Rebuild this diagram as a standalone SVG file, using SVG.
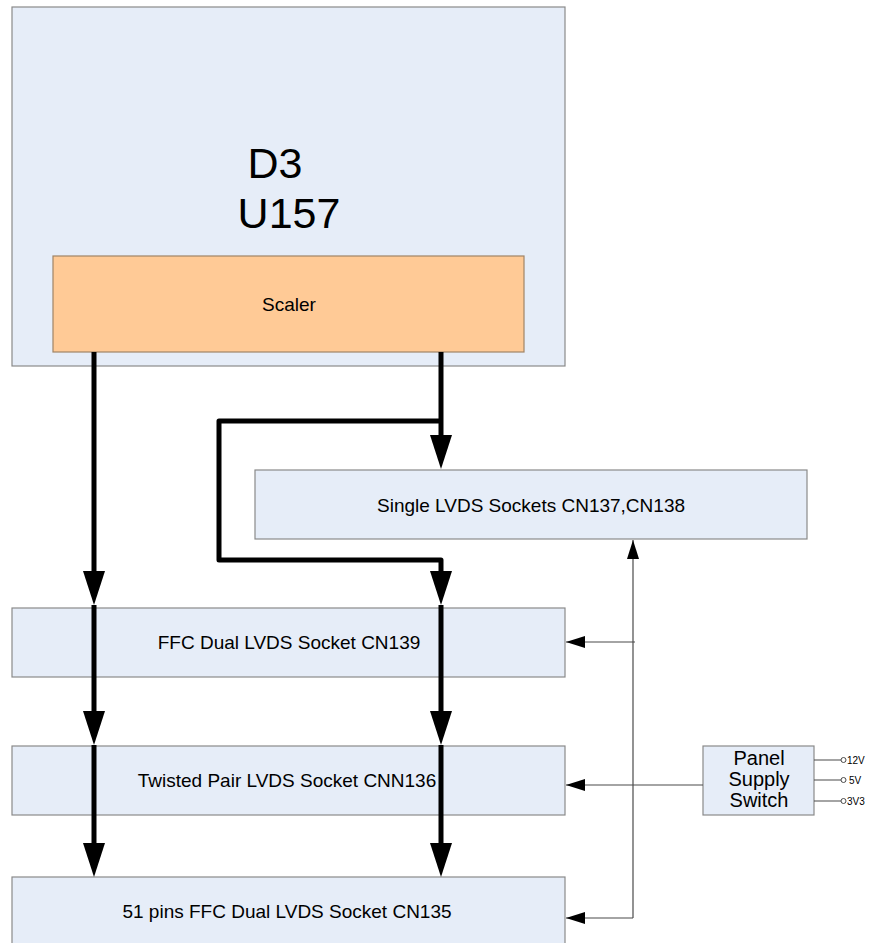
<svg xmlns="http://www.w3.org/2000/svg" width="873" height="943" viewBox="0 0 873 943">
<style>
.box{fill:#e6edf8;stroke:#8a8a8a;stroke-width:1.2}
.scaler{fill:#ffca96;stroke:#a08466;stroke-width:1.2}
.lbl{font-family:"Liberation Sans",Arial,sans-serif;font-size:19px;fill:#000;text-anchor:middle}
.big{font-family:"Liberation Sans",Arial,sans-serif;font-size:43px;fill:#000;text-anchor:middle}
.tiny{font-family:"Liberation Sans",Arial,sans-serif;font-size:10px;fill:#000}
.thick{fill:none;stroke:#000;stroke-width:5;stroke-linejoin:round}
.thin{fill:none;stroke:#4a4a4a;stroke-width:1.2}
.pin{fill:#fff;stroke:#4a4a4a;stroke-width:1}
</style>
<defs>
<marker id="ah" markerUnits="userSpaceOnUse" markerWidth="34" markerHeight="22" viewBox="0 0 34 22" refX="24" refY="11" orient="auto">
<path d="M0,0 L34,11 L0,22 z" fill="#000"/>
</marker>
<marker id="at" markerUnits="userSpaceOnUse" markerWidth="19" markerHeight="12" viewBox="0 0 19 12" refX="19" refY="6" orient="auto">
<path d="M0,0 L19,6 L0,12 z" fill="#000"/>
</marker>
</defs>
<rect width="873" height="943" fill="#fff"/>
<g id="d3">
<rect class="box" x="12" y="7" width="553" height="359"/>
<text class="big" x="275" y="178">D3</text>
<text class="big" x="289" y="228">U157</text>
</g>
<g id="scaler">
<rect class="scaler" x="53" y="256" width="471" height="96"/>
<text class="lbl" x="289" y="311">Scaler</text>
</g>
<g id="single">
<rect class="box" x="255" y="470" width="552" height="69"/>
<text class="lbl" x="531" y="512">Single LVDS Sockets CN137,CN138</text>
</g>
<g id="ffc">
<rect class="box" x="12" y="608" width="553" height="69"/>
<text class="lbl" x="289" y="649">FFC Dual LVDS Socket CN139</text>
</g>
<g id="twisted">
<rect class="box" x="12" y="746" width="553" height="69"/>
<text class="lbl" x="287" y="787">Twisted Pair LVDS Socket CNN136</text>
</g>
<g id="ffc51">
<rect class="box" x="12" y="877" width="553" height="70"/>
<text class="lbl" x="287" y="918">51 pins FFC Dual LVDS Socket CN135</text>
</g>
<g id="panel">
<rect class="box" x="703" y="746" width="111" height="69"/>
<text class="lbl" x="759" y="765" style="font-size:20px">Panel</text>
<text class="lbl" x="759" y="786" style="font-size:20px">Supply</text>
<text class="lbl" x="759" y="807" style="font-size:20px">Switch</text>
<path class="thin" d="M814 760H841M814 780H841M814 801H841"/>
<circle class="pin" cx="843.5" cy="760" r="2.5"/>
<circle class="pin" cx="843.5" cy="780" r="2.5"/>
<circle class="pin" cx="843.5" cy="801" r="2.5"/>
<text class="tiny" x="847" y="764">12V</text>
<text class="tiny" x="849" y="784">5V</text>
<text class="tiny" x="847" y="805">3V3</text>
</g>
<g id="connectors">
<path class="thick" d="M94 352V595" marker-end="url(#ah)"/>
<path class="thick" d="M94 605V735" marker-end="url(#ah)"/>
<path class="thick" d="M94 745V867" marker-end="url(#ah)"/>
<path class="thick" d="M441 352V459" marker-end="url(#ah)"/>
<path class="thick" d="M441 421H219V560H441V595" marker-end="url(#ah)"/>
<path class="thick" d="M441 605V735" marker-end="url(#ah)"/>
<path class="thick" d="M441 745V867" marker-end="url(#ah)"/>
<path class="thin" d="M633 918V540" marker-end="url(#at)"/>
<path class="thin" d="M635 642H566" marker-end="url(#at)"/>
<path class="thin" d="M703 785H566" marker-end="url(#at)"/>
<path class="thin" d="M633 918H566" marker-end="url(#at)"/>
</g>
</svg>
